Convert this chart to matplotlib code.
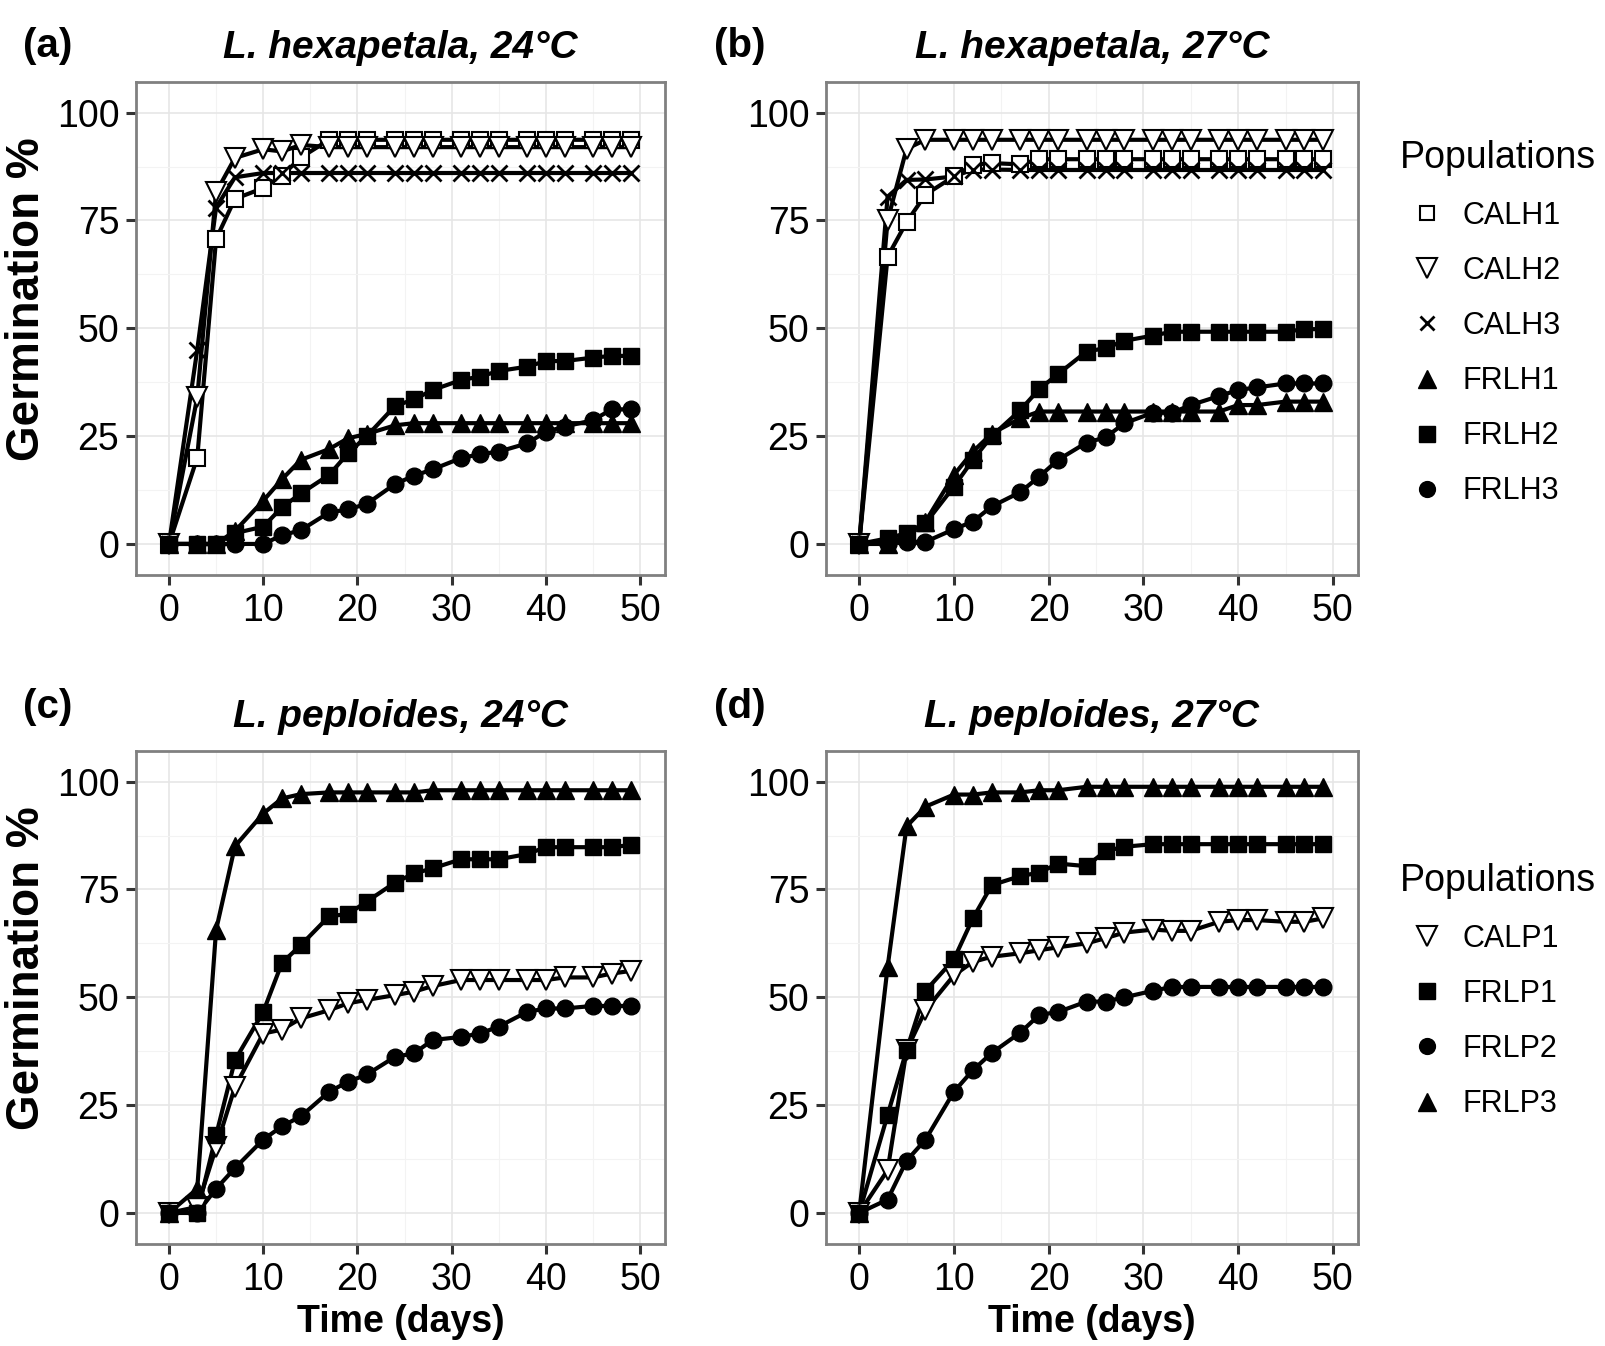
"""Germination curves of Ludwigia populations at two temperatures."""

import matplotlib
matplotlib.use("Agg")
import matplotlib.pyplot as plt
from matplotlib.lines import Line2D
from matplotlib.ticker import MultipleLocator

plt.rcParams["font.family"] = ["Liberation Sans", "DejaVu Sans"]

days = [0, 3, 5, 7, 10, 12, 14, 17, 19, 21, 24, 26, 28, 31, 33, 35, 38, 40, 42, 45, 47, 49]

# L. hexapetala, 24 C
calh1_24 = [0, 20, 70.7, 80, 82.5, 85.4, 89.6, 93.7, 93.7, 93.7, 93.7, 93.7, 93.7, 93.7, 93.7, 93.7, 93.7, 93.7, 93.7, 93.7, 93.7, 93.7]
calh2_24 = [0, 34, 81.5, 89.5, 91.5, 91, 92.5, 92, 92, 92, 92, 92, 92, 92, 92, 92, 92, 92, 92, 92, 92, 92]
calh3_24 = [0, 45, 78, 85, 86, 86, 86, 86, 86, 86, 86, 86, 86, 86, 86, 86, 86, 86, 86, 86, 86, 86]
frlh1_24 = [0, 0, 0, 3, 10, 15, 19.5, 22, 24.5, 25.5, 27.5, 28, 28, 28, 28, 28, 28, 28, 28, 28, 28, 28]
frlh2_24 = [0, 0, 0, 2.5, 4, 8.5, 11.7, 16, 21, 25, 32, 33.5, 35.7, 38, 38.8, 40.1, 41.1, 42.4, 42.4, 43.2, 43.6, 43.6]
frlh3_24 = [0, 0, 0, 0, 0, 2, 3.2, 7.3, 8, 9.3, 13.9, 15.8, 17.3, 19.9, 20.8, 21.4, 23.3, 26, 27.2, 28.7, 31.2, 31.2]

# L. hexapetala, 27 C
calh1_27 = [0, 66.6, 74.6, 81, 85.2, 87.9, 88.3, 88, 89.2, 89.2, 89.2, 89.2, 89.2, 89.2, 89.2, 89.2, 89.2, 89.2, 89.2, 89.2, 89.2, 89.2]
calh2_27 = [0, 75, 91.6, 93.7, 93.7, 93.7, 93.7, 93.7, 93.7, 93.7, 93.7, 93.7, 93.7, 93.7, 93.7, 93.7, 93.7, 93.7, 93.7, 93.7, 93.7, 93.7]
calh3_27 = [0, 80.5, 84.4, 84.5, 85.2, 86.8, 86.8, 86.7, 86.7, 86.7, 86.7, 86.7, 86.7, 86.7, 86.7, 86.7, 86.7, 86.7, 86.7, 86.7, 86.7, 86.7]
frlh1_27 = [0, 0, 2, 5.2, 16, 21.4, 25.6, 29.1, 30.7, 30.7, 30.7, 30.7, 30.7, 30.7, 30.7, 30.7, 30.7, 32.2, 32.2, 33, 33, 33]
frlh2_27 = [0, 1.3, 2.5, 4.8, 13.3, 19.5, 25, 31, 35.9, 39.4, 44.6, 45.4, 47.1, 48.3, 49.2, 49.2, 49.2, 49.2, 49.2, 49.2, 49.8, 49.8]
frlh3_27 = [0, 0, 0.5, 0.5, 3.4, 5.2, 8.7, 12, 15.6, 19.5, 23.5, 24.7, 28, 30.4, 30.4, 32.2, 34.3, 35.7, 36.3, 37.2, 37.2, 37.2]

# L. peploides, 24 C
calp1_24 = [0, 1.4, 15.2, 29.2, 41.6, 42.5, 45.1, 47, 48.6, 49.4, 50.5, 51.3, 52.6, 54, 54, 54, 54, 54, 54.6, 54.6, 55.5, 56.1]
frlp1_24 = [0, 0, 18, 35.4, 46.6, 58, 62.1, 68.8, 69.3, 72.2, 76.6, 78.7, 79.9, 82, 82, 82, 83.2, 84.8, 84.8, 84.8, 84.8, 85.3]
frlp2_24 = [0, 0, 5.6, 10.4, 17, 20.1, 22.4, 28.1, 30.4, 32.1, 36.2, 37, 40.1, 40.8, 41.6, 43.2, 46.6, 47.4, 47.4, 48, 48, 48]
frlp3_24 = [0, 5.6, 65.6, 85, 92.6, 96.1, 97.1, 97.5, 97.5, 97.5, 97.5, 97.5, 98, 98, 98, 98, 98, 98, 98, 98, 98, 98]

# L. peploides, 27 C
calp1_27 = [0, 9.9, 37.7, 47, 55.1, 58.2, 59.4, 60.2, 60.9, 61.6, 62.5, 63.7, 65, 65.7, 65.4, 65.4, 67.5, 67.9, 67.9, 67.5, 67.5, 68.3]
frlp1_27 = [0, 22.7, 37.7, 51.5, 58.8, 68.3, 76, 78.1, 78.9, 81, 80.4, 83.9, 84.9, 85.5, 85.5, 85.5, 85.5, 85.5, 85.5, 85.5, 85.5, 85.5]
frlp2_27 = [0, 3.1, 12.1, 17, 28.1, 33.1, 37.1, 41.8, 45.9, 46.6, 49, 49, 50, 51.5, 52.4, 52.4, 52.4, 52.4, 52.4, 52.4, 52.4, 52.4]
frlp3_27 = [0, 57, 89.6, 94.2, 97, 97, 97.5, 97.5, 98, 98, 98.8, 98.8, 98.8, 98.8, 98.8, 98.8, 98.8, 98.8, 98.8, 98.8, 98.8, 98.8]

hex_names = ["CALH1", "CALH2", "CALH3", "FRLH1", "FRLH2", "FRLH3"]
pep_names = ["CALP1", "FRLP1", "FRLP2", "FRLP3"]

# marker, fill, size (pt)
STYLE = {
    "open_square": ("s", "white", 11),
    "open_tri": ("v", "white", 14.5),
    "cross": ("x", "black", 11),
    "tri": ("^", "black", 13.5),
    "square": ("s", "black", 11.5),
    "circle": ("o", "black", 12),
}
hex_styles = ["open_square", "open_tri", "cross", "tri", "square", "circle"]
pep_styles = ["open_tri", "square", "circle", "tri"]

W, H = 1606, 1346
fig = plt.figure(figsize=(W / 100, H / 100), dpi=100)


def px_axes(left, top, right, bottom):
    return fig.add_axes([left / W, 1 - bottom / H, (right - left) / W, (bottom - top) / H])


def marker_kw(st, scale=1.0):
    m, fc, ms = STYLE[st]
    mew = 1.5 if fc == "white" else 1.0
    if m == "x":
        mew = 2.0
    return dict(marker=m, ms=ms * scale, mfc=fc, mec="black", mew=mew)


def draw_panel(ax, series, styles, ylabel, xlabel):
    for ys in series:
        ax.plot(days, ys, color="black", lw=3.0, zorder=2, solid_joinstyle="round")
    for ys, st in zip(series, styles):
        ax.plot(days, ys, ls="none", zorder=3, **marker_kw(st))
    ax.set_xlim(-3.5, 52.65)
    ax.set_ylim(-7.2, 107.1)
    ax.xaxis.set_major_locator(MultipleLocator(10))
    ax.xaxis.set_minor_locator(MultipleLocator(5))
    ax.yaxis.set_major_locator(MultipleLocator(25))
    ax.yaxis.set_minor_locator(MultipleLocator(12.5))
    ax.grid(which="major", color="#e6e6e6", lw=1.2, zorder=0)
    ax.grid(which="minor", color="#f3f3f3", lw=0.8, zorder=0)
    ax.set_axisbelow(True)
    ax.tick_params(which="major", length=7, width=2.2, color="#333333",
                   labelsize=27, pad=5)
    ax.tick_params(axis="x", which="major", pad=6)
    ax.tick_params(which="minor", length=0)
    for sp in ax.spines.values():
        sp.set_color("#808080")
        sp.set_linewidth(2)
    if ylabel:
        ax.set_ylabel("Germination %", fontsize=33, fontweight="bold")
        ax.yaxis.set_label_coords(-0.165, 0.56)
    if xlabel:
        ax.set_xlabel("Time (days)", fontsize=27, fontweight="bold", labelpad=4)


ax_a = px_axes(136, 82, 665, 575)
ax_b = px_axes(826, 82, 1358, 575)
ax_c = px_axes(136, 751, 665, 1244)
ax_d = px_axes(826, 751, 1358, 1244)

draw_panel(ax_a, [calh1_24, calh2_24, calh3_24, frlh1_24, frlh2_24, frlh3_24], hex_styles, True, False)
draw_panel(ax_b, [calh1_27, calh2_27, calh3_27, frlh1_27, frlh2_27, frlh3_27], hex_styles, False, False)
draw_panel(ax_c, [calp1_24, frlp1_24, frlp2_24, frlp3_24], pep_styles, True, True)
draw_panel(ax_d, [calp1_27, frlp1_27, frlp2_27, frlp3_27], pep_styles, False, True)

titles = [
    (ax_a, "L. hexapetala, 24°C"),
    (ax_b, "L. hexapetala, 27°C"),
    (ax_c, "L. peploides, 24°C"),
    (ax_d, "L. peploides, 27°C"),
]
for ax, title in titles:
    ax.set_title(title, fontsize=28, fontweight="bold", fontstyle="italic", pad=17)

for tag, x, y in [("(a)", 23, 46), ("(b)", 714, 46), ("(c)", 23, 707), ("(d)", 714, 707)]:
    fig.text(x / W, 1 - y / H, tag, fontsize=29, fontweight="bold", va="center")


def add_legend(names, styles, top_px):
    handles = [Line2D([], [], ls="none", **marker_kw(st, 0.95)) for st in styles]
    leg = fig.legend(handles, names, title="Populations", loc="upper left",
                     bbox_to_anchor=(1400 / W, 1 - top_px / H), frameon=False,
                     fontsize=22, title_fontsize=27, borderpad=0, borderaxespad=0,
                     handlelength=1.76, handletextpad=0.3, labelspacing=0.82,
                     alignment="left")
    return leg


add_legend(hex_names, hex_styles, 140)
add_legend(pep_names, pep_styles, 863)

fig.savefig("out.png", dpi=100)
